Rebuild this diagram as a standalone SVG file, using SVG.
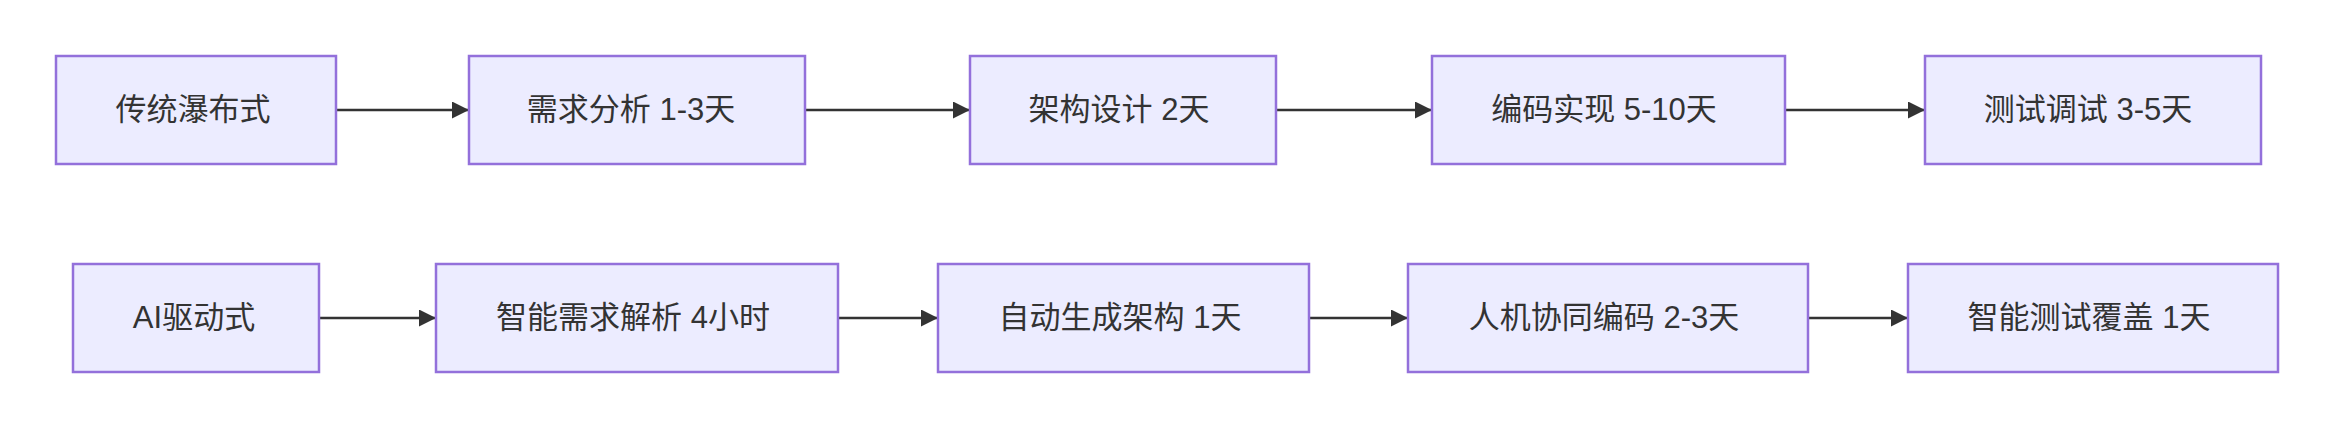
<svg xmlns="http://www.w3.org/2000/svg" width="2334" height="428" viewBox="0 0 2334 428">
<style>
.node rect{fill:#ECECFF;stroke:#9370DB;stroke-width:2.5}
.node text{font-family:"Liberation Sans","Noto Sans CJK SC",sans-serif;font-size:31px;fill:#333;text-anchor:middle}
.edge{stroke:#333;stroke-width:2.5;fill:none}
</style>
<defs>
<marker id="arrow" viewBox="0 0 10 10" refX="10" refY="5" markerUnits="userSpaceOnUse" markerWidth="17" markerHeight="17" orient="auto">
<path d="M0,0 L10,5 L0,10 z" fill="#333"/>
</marker>
</defs>
<g id="connectors">
<line class="edge" x1="336" y1="110" x2="469" y2="110" marker-end="url(#arrow)"/>
<line class="edge" x1="805" y1="110" x2="970" y2="110" marker-end="url(#arrow)"/>
<line class="edge" x1="1276" y1="110" x2="1432" y2="110" marker-end="url(#arrow)"/>
<line class="edge" x1="1785" y1="110" x2="1925" y2="110" marker-end="url(#arrow)"/>
<line class="edge" x1="319" y1="318" x2="436" y2="318" marker-end="url(#arrow)"/>
<line class="edge" x1="838" y1="318" x2="938" y2="318" marker-end="url(#arrow)"/>
<line class="edge" x1="1309" y1="318" x2="1408" y2="318" marker-end="url(#arrow)"/>
<line class="edge" x1="1808" y1="318" x2="1908" y2="318" marker-end="url(#arrow)"/>
</g>
<g id="A1" class="node"><rect x="56" y="56" width="280" height="108"/><text x="193" y="120">传统瀑布式</text></g>
<g id="A2" class="node"><rect x="469" y="56" width="336" height="108"/><text x="631" y="120">需求分析 1-3天</text></g>
<g id="A3" class="node"><rect x="970" y="56" width="306" height="108"/><text x="1119" y="120">架构设计 2天</text></g>
<g id="A4" class="node"><rect x="1432" y="56" width="353" height="108"/><text x="1604" y="120">编码实现 5-10天</text></g>
<g id="A5" class="node"><rect x="1925" y="56" width="336" height="108"/><text x="2088" y="120">测试调试 3-5天</text></g>
<g id="B1" class="node"><rect x="73" y="264" width="246" height="108"/><text x="194" y="328">AI驱动式</text></g>
<g id="B2" class="node"><rect x="436" y="264" width="402" height="108"/><text x="633" y="328">智能需求解析 4小时</text></g>
<g id="B3" class="node"><rect x="938" y="264" width="371" height="108"/><text x="1120" y="328">自动生成架构 1天</text></g>
<g id="B4" class="node"><rect x="1408" y="264" width="400" height="108"/><text x="1604" y="328">人机协同编码 2-3天</text></g>
<g id="B5" class="node"><rect x="1908" y="264" width="370" height="108"/><text x="2089" y="328">智能测试覆盖 1天</text></g>
</svg>
